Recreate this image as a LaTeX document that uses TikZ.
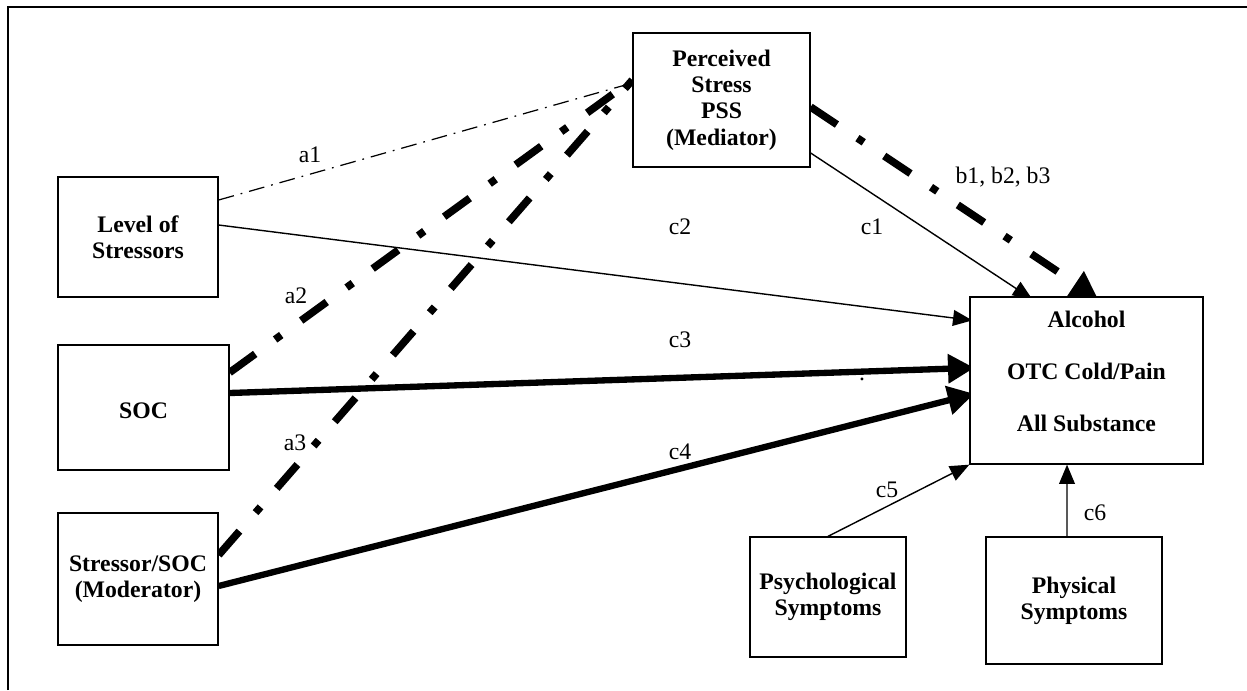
\documentclass[tikz,border=0pt]{standalone}
\usepackage{fontspec}
\setmainfont{Liberation Serif}
\usetikzlibrary{arrows.meta}
\usetikzlibrary{backgrounds}

\tikzset{
  varbox/.style={draw, fill=white, line width=0.75pt, shape=rectangle, inner sep=0pt,
    align=center, font=\fontsize{13.5}{15}\selectfont\bfseries},
  pathlbl/.style={inner sep=0pt, font=\fontsize{13.5}{15}\selectfont},
  thinpath/.style={line width=0.8pt},
  thickpath/.style={line width=3.6pt},
  thindashdot/.style={line width=0.7pt, dash pattern=on 9pt off 4pt on 1pt off 4pt},
  thickdashdot/.style={line width=4.3pt, dash pattern=on 18pt off 14pt on 4.3pt off 14pt},
  thintip/.style={-{Triangle[length=11pt,width=9pt]}},
  thicktip/.style={-{Triangle[length=15pt,width=16pt]}}
}

\begin{document}
\begin{tikzpicture}[x=0.02cm, y=-0.02cm]
        \useasboundingbox (0,0) rectangle (1247,690);
        \draw[line width=1.2pt] (8,690) -- (8,7) -- (1247,7);

        \node[varbox, minimum width=3.54cm, minimum height=2.68cm]
        (pss) at (721.5,100) {Perceived\\Stress\\PSS\\(Mediator)};
        \node[varbox, minimum width=3.2cm, minimum height=2.4cm]
        (lvl) at (138,237) {Level of\\Stressors};
        \node[varbox, minimum width=3.42cm, minimum height=2.5cm]
        (soc) at (143.5,407.5) {\rule{0pt}{13pt}SOC};
        \node[varbox, minimum width=3.2cm, minimum height=2.64cm]
        (mod) at (138,579) {Stressor/SOC\\(Moderator)};
        \node[varbox, minimum width=4.66cm, minimum height=3.34cm]
        (out) at (1086.5,380.5) {Alcohol\\[14.6pt]OTC Cold/Pain\\[14.6pt]All Substance\rule[-11pt]{0pt}{11pt}};
        \node[varbox, minimum width=3.12cm, minimum height=2.4cm]
        (psy) at (828,597) {Psychological\\Symptoms};
        \node[varbox, minimum width=3.52cm, minimum height=2.54cm]
        (phy) at (1074,600.5) {Physical\\Symptoms};

        \node[pathlbl] (la1) at (310,155) {a1};
        \node[pathlbl] (la2) at (296,296) {a2};
        \node[pathlbl] (la3) at (295,443) {a3};
        \node[pathlbl] (lb) at (1003,177) {b1, b2, b3};
        \node[pathlbl] (lc1) at (872,227) {c1};
        \node[pathlbl] (lc2) at (680,227) {c2};
        \node[pathlbl] (lc3) at (680,340) {c3};
        \node[pathlbl] (lc4) at (680,452) {c4};
        \node[pathlbl] (lc5) at (887,490) {c5};
        \node[pathlbl] (lc6) at (1095,513) {c6};
        \node[pathlbl, anchor=base] (ldot) at (862,380) {.};

        \begin{scope}[on background layer]
        \draw[thindashdot] ([yshift=0.74cm]lvl.east) -- ([yshift=0.34cm]pss.west);
        \draw[thickdashdot] ([yshift=0.7cm]soc.east) -- ([yshift=0.4cm]pss.west);
        \draw[thickdashdot] ([yshift=0.48cm]mod.east) -- ([yshift=0.4cm]pss.west);
        \draw[thickdashdot, thicktip, shorten >=-0.06cm] ([yshift=-0.14cm]pss.east) -- ([xshift=0.17cm]out.north);
        \draw[thinpath, thintip, shorten >=-0.1cm] ([yshift=-1.06cm]pss.east) -- ([xshift=-1.17cm]out.north);
        \draw[thinpath, thintip, shorten >=-0.06cm] ([yshift=0.24cm]lvl.east) -- ([yshift=1.21cm]out.west);
        \draw[thickpath, thicktip, shorten >=-0.1cm] ([yshift=0.29cm]soc.east) -- ([yshift=0.25cm]out.west);
        \draw[thickpath, thicktip, shorten >=-0.1cm] ([yshift=-0.14cm]mod.east) -- ([yshift=-0.29cm]out.west);
        \draw[thinpath, thintip] (psy.north) -- (out.south west);
        \draw[thinpath, thintip] ([xshift=-0.14cm]phy.north) -- ([xshift=-0.39cm]out.south);
        \end{scope}
\end{tikzpicture}
\end{document}
